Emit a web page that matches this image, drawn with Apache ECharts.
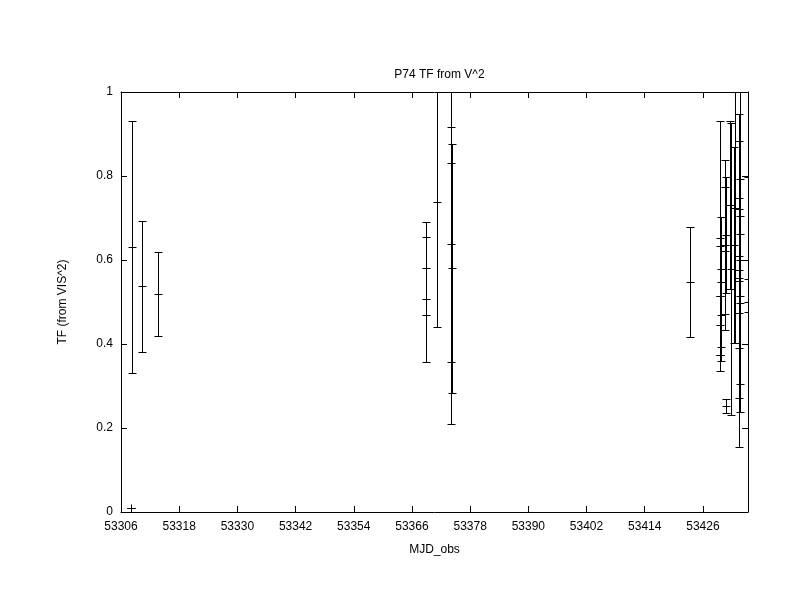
<!DOCTYPE html>
<html>
<head>
<meta charset="utf-8">
<script src="https://cdn.jsdelivr.net/npm/echarts@6/dist/echarts.min.js"></script>
<style>html,body{margin:0;padding:0;background:#fff;}#c{width:792px;height:612px;}</style>
</head>
<body>
<div id="c"></div>
<script>
// Observation dates (MJD), transfer function values and their errors
const mjd = [
  53308.1, 53308.3, 53310.4, 53313.6,
  53368.9, 53368.9, 53371.2, 53374.0, 53374.2, 53374.0,
  53423.4,
  53429.5, 53429.7, 53429.5, 53429.7, 53429.5,
  53430.5, 53430.7, 53430.5, 53430.7,
  53431.8, 53431.6,
  53432.4, 53432.6,
  53433.4, 53433.6, 53433.4, 53433.6, 53433.4, 53433.6, 53433.4,
  53435.3, 53435.3
];
const tf = [
  0.010, 0.630, 0.537, 0.519,
  0.506, 0.580, 0.739, 0.637, 0.580, 0.830,
  0.548,
  0.634, 0.548, 0.514, 0.469, 0.445,
  0.636, 0.660, 0.622, 0.252,
  0.579, 0.731,
  0.636, 0.725,
  0.551, 0.661, 0.577, 0.515, 0.556, 0.601, 0.610,
  0.499, 0.477
];
const tfErr = [
  0.000, 0.300, 0.157, 0.100,
  0.149, 0.110, 0.299, 0.279, 0.297, 0.620,
  0.131,
  0.298, 0.155, 0.139, 0.109, 0.070,
  0.202, 0.138, 0.151, 0.017,
  0.348, 0.200,
  0.234, 0.323,
  0.396, 0.357, 0.306, 0.278, 0.166, 0.104, 0.137,
  0.299, 0.077
];
const xTicks = { min: 53306, max: 53435.3, step: 12 };
const yTicks = { min: 0, max: 1, step: 0.2 };

const data = mjd.map((x, i) => [x, tf[i], tfErr[i]]);

const chart = echarts.init(document.getElementById('c'), null, { renderer: 'canvas' });
const font = 'Liberation Sans, Arial, sans-serif';
const hw = 4;

function renderItem(params, api) {
  const x = api.value(0), y = api.value(1), e = api.value(2);
  const t = api.coord([x, y + e]);
  const b = api.coord([x, y - e]);
  const m = api.coord([x, y]);
  const px = Math.round(t[0]) + 0.5;
  const ty = Math.round(t[1]) + 0.5, by = Math.round(b[1]) + 0.5, my = Math.round(m[1]) + 0.5;
  const st = { stroke: '#000', lineWidth: 1 };
  return {
    type: 'group',
    children: [
      { type: 'line', shape: { x1: px, y1: ty, x2: px, y2: by }, style: st },
      { type: 'line', shape: { x1: px - hw, y1: ty, x2: px + hw, y2: ty }, style: st },
      { type: 'line', shape: { x1: px - hw, y1: by, x2: px + hw, y2: by }, style: st },
      { type: 'line', shape: { x1: px - hw, y1: my, x2: px + hw, y2: my }, style: st },
      { type: 'line', shape: { x1: px, y1: my - hw, x2: px, y2: my + hw }, style: st }
    ]
  };
}

const axisLine = { show: true, onZero: false, lineStyle: { color: '#000', width: 1 } };
const tick = { show: true, inside: true, length: 6, lineStyle: { color: '#000', width: 1 } };
const xFmt = v => (Math.abs((v - xTicks.min) / xTicks.step - Math.round((v - xTicks.min) / xTicks.step)) < 1e-6) ? String(v) : '';

chart.setOption({
  animation: false,
  backgroundColor: '#fff',
  title: {
    text: 'P74 TF from V^2',
    left: 434.5, top: 64, textAlign: 'center',
    textStyle: { fontFamily: font, fontSize: 12, fontWeight: 'normal', color: '#000' }
  },
  grid: { left: 121, right: 44, top: 92, bottom: 100, containLabel: false },
  xAxis: [
    {
      type: 'value', position: 'bottom',
      min: xTicks.min, max: xTicks.max, interval: xTicks.step,
      name: 'MJD_obs', nameLocation: 'middle', nameGap: 32,
      nameTextStyle: { fontFamily: font, fontSize: 12, color: '#000' },
      axisLine: axisLine, axisTick: tick, splitLine: { show: false },
      axisLabel: { fontFamily: font, fontSize: 12, color: '#000', margin: 9, formatter: xFmt, showMaxLabel: false }
    },
    {
      type: 'value', position: 'top',
      min: xTicks.min, max: xTicks.max, interval: xTicks.step,
      axisLine: axisLine, axisTick: tick, splitLine: { show: false },
      axisLabel: { show: false }
    }
  ],
  yAxis: [
    {
      type: 'value', position: 'left',
      min: yTicks.min, max: yTicks.max, interval: yTicks.step,
      name: 'TF (from VIS^2)', nameLocation: 'middle', nameGap: 52,
      nameTextStyle: { fontFamily: font, fontSize: 12, color: '#000' },
      axisLine: axisLine, axisTick: tick, splitLine: { show: false },
      axisLabel: { fontFamily: font, fontSize: 12, color: '#000', margin: 8 }
    },
    {
      type: 'value', position: 'right',
      min: yTicks.min, max: yTicks.max, interval: yTicks.step,
      axisLine: axisLine, axisTick: tick, splitLine: { show: false },
      axisLabel: { show: false }
    }
  ],
  series: [{
    type: 'custom',
    xAxisIndex: 0, yAxisIndex: 0,
    clip: true,
    renderItem: renderItem,
    data: data,
    encode: { x: 0, y: 1 }
  }]
});
</script>
</body>
</html>
